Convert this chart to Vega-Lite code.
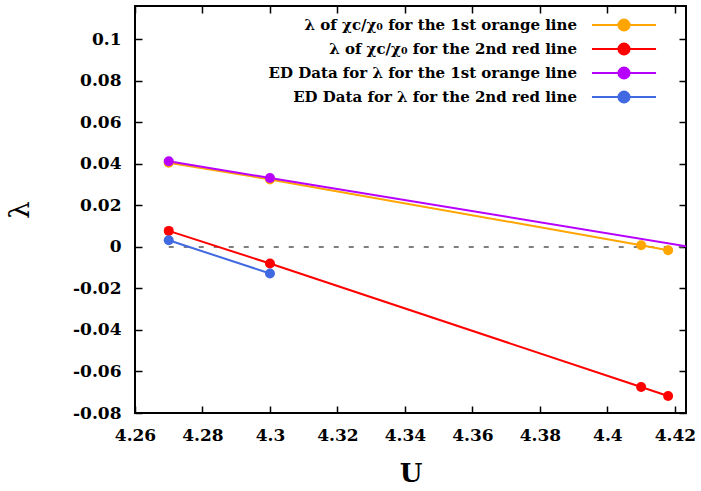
{
  "$schema": "https://vega.github.io/schema/vega-lite/v6.json",
  "width": 551,
  "height": 407,
  "autosize": "none",
  "padding": {"left": 135, "top": 6, "right": 15, "bottom": 78},
  "background": "white",
  "config": {
    "view": {"stroke": "black", "strokeWidth": 2},
    "axis": {
      "domain": false,
      "grid": false,
      "ticks": true,
      "tickSize": -7,
      "tickColor": "black",
      "tickWidth": 1.5,
      "labelFlush": false,
      "labelFont": "DejaVu Serif",
      "labelFontWeight": "bold",
      "labelFontSize": 17,
      "labelColor": "black",
      "titleFont": "DejaVu Serif",
      "titleColor": "black"
    },
    "legend": {
      "orient": "none",
      "legendX": 476,
      "legendY": 6,
      "padding": 0,
      "rowPadding": 1,
      "labelAlign": "right",
      "labelOffset": -60,
      "labelLimit": 500,
      "labelFont": "DejaVu Serif",
      "labelFontWeight": "bold",
      "labelFontSize": 15,
      "labelColor": "black",
      "symbolSize": 576,
      "symbolStrokeWidth": 2
    }
  },
  "datasets": {
    "curves": [
      {"U": 4.27, "lambda": 0.0405, "series": "λ of χc/χ₀ for the 1st orange line"},
      {"U": 4.30, "lambda": 0.0325, "series": "λ of χc/χ₀ for the 1st orange line"},
      {"U": 4.41, "lambda": 0.0008, "series": "λ of χc/χ₀ for the 1st orange line"},
      {"U": 4.418, "lambda": -0.0016, "series": "λ of χc/χ₀ for the 1st orange line"},
      {"U": 4.27, "lambda": 0.0077, "series": "λ of χc/χ₀ for the 2nd red line"},
      {"U": 4.30, "lambda": -0.008, "series": "λ of χc/χ₀ for the 2nd red line"},
      {"U": 4.41, "lambda": -0.0675, "series": "λ of χc/χ₀ for the 2nd red line"},
      {"U": 4.418, "lambda": -0.0718, "series": "λ of χc/χ₀ for the 2nd red line"},
      {"U": 4.27, "lambda": 0.0412, "series": "ED Data for λ for the 1st orange line"},
      {"U": 4.30, "lambda": 0.0332, "series": "ED Data for λ for the 1st orange line"},
      {"U": 4.44, "lambda": -0.0041, "series": "ED Data for λ for the 1st orange line"},
      {"U": 4.27, "lambda": 0.0032, "series": "ED Data for λ for the 2nd red line"},
      {"U": 4.30, "lambda": -0.0128, "series": "ED Data for λ for the 2nd red line"}
    ],
    "zero": [
      {"U": 4.27, "lambda": 0},
      {"U": 4.4233, "lambda": 0}
    ]
  },
  "layer": [
    {
      "data": {"name": "zero"},
      "mark": {"type": "line", "color": "#555555", "strokeWidth": 1.5, "strokeDash": [5, 10], "clip": true},
      "encoding": {
        "x": {"field": "U", "type": "quantitative", "scale": {"domain": [4.26, 4.4233], "nice": false, "zero": false},
              "axis": {"orient": "top", "labels": false, "title": null, "values": [4.26, 4.28, 4.3, 4.32, 4.34, 4.36, 4.38, 4.4, 4.42]}},
        "y": {"field": "lambda", "type": "quantitative", "scale": {"domain": [-0.08, 0.116], "nice": false, "zero": false},
              "axis": {"orient": "right", "labels": false, "title": null, "values": [-0.08, -0.06, -0.04, -0.02, 0, 0.02, 0.04, 0.06, 0.08, 0.1]}}
      }
    },
    {
      "data": {"name": "curves"},
      "mark": {"type": "line", "strokeWidth": 2, "clip": true},
      "encoding": {
        "x": {"field": "U", "type": "quantitative",
              "axis": {"orient": "bottom", "title": "U", "titleFontSize": 26, "titleFontWeight": "bold", "titlePadding": 17, "labelPadding": 21,
                       "values": [4.26, 4.28, 4.3, 4.32, 4.34, 4.36, 4.38, 4.4, 4.42], "labelExpr": "format(datum.value, '~g')"}},
        "y": {"field": "lambda", "type": "quantitative",
              "axis": {"orient": "left", "title": "λ", "titleFontSize": 28, "titleFontWeight": "normal", "titlePadding": 38, "labelPadding": 21,
                       "values": [-0.08, -0.06, -0.04, -0.02, 0, 0.02, 0.04, 0.06, 0.08, 0.1],
                       "labelExpr": "datum.value < 0 ? '-' + format(-datum.value, '~g') : format(datum.value, '~g')"}},
        "color": {"field": "series", "type": "nominal",
                  "scale": {"domain": ["λ of χc/χ₀ for the 1st orange line", "λ of χc/χ₀ for the 2nd red line", "ED Data for λ for the 1st orange line", "ED Data for λ for the 2nd red line"],
                            "range": ["#FFA500", "#FF0000", "#B800FF", "#4169E1"]},
                  "legend": {"title": null, "symbolType": "M-2.67,0L2.67,0M-0.46,0A0.46,0.46,0,1,1,0.46,0A0.46,0.46,0,1,1,-0.46,0Z",
                             "encode": {"symbols": {"update": {"fill": {"scale": "color", "field": "value"}, "stroke": {"scale": "color", "field": "value"}, "strokeWidth": {"value": 2}, "opacity": {"value": 1}}}}}}
      }
    },
    {
      "data": {"name": "curves"},
      "transform": [{"filter": "datum.U <= 4.4233"}],
      "mark": {"type": "point", "filled": true, "size": 100, "opacity": 1, "clip": true},
      "encoding": {
        "x": {"field": "U", "type": "quantitative", "axis": null},
        "y": {"field": "lambda", "type": "quantitative", "axis": null},
        "color": {"field": "series", "type": "nominal",
                  "legend": {"title": null, "symbolType": "M-2.67,0L2.67,0M-0.46,0A0.46,0.46,0,1,1,0.46,0A0.46,0.46,0,1,1,-0.46,0Z",
                             "encode": {"symbols": {"update": {"fill": {"scale": "color", "field": "value"}, "stroke": {"scale": "color", "field": "value"}, "strokeWidth": {"value": 2}, "opacity": {"value": 1}}}}}}
      }
    }
  ],
  "resolve": {"axis": {"x": "independent", "y": "independent"}}
}
